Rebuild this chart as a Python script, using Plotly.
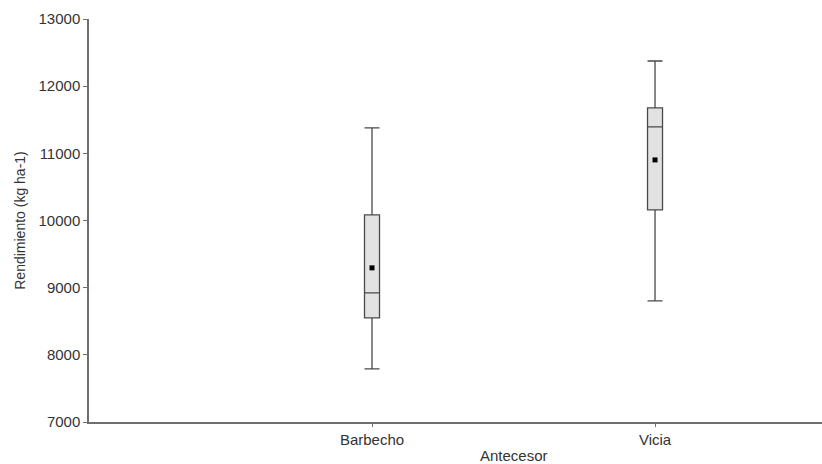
import plotly.graph_objects as go

# Yield summary by previous crop
categories = ["Barbecho", "Vicia"]
whisker_low = [7792, 8804]
q1 = [8551, 10158]
median = [8923, 11393]
q3 = [10083, 11676]
whisker_high = [11378, 12375]
mean = [9295, 10902]

y_ticks = [7000, 8000, 9000, 10000, 11000, 12000, 13000]

font_family = "Liberation Sans, Arial, sans-serif"
axis_color = "#6e6e6e"
text_color = "#333333"

fig = go.Figure()

fig.add_trace(go.Box(
    x=categories,
    q1=q1,
    median=median,
    q3=q3,
    lowerfence=whisker_low,
    upperfence=whisker_high,
    fillcolor="#e2e2e2",
    line=dict(color="#4a4a4a", width=1.3),
    width=0.053,
    whiskerwidth=1,
    boxpoints=False,
    showlegend=False,
    hoverinfo="skip",
))

fig.add_trace(go.Scatter(
    x=categories,
    y=mean,
    mode="markers",
    marker=dict(symbol="square", size=5, color="#000000"),
    showlegend=False,
    hoverinfo="skip",
))

# x-axis title, centred between the two groups
fig.add_annotation(
    x=0.5, xref="x", y=-0.0565, yref="paper",
    text="Antecesor", showarrow=False,
    yanchor="top",
    font=dict(family=font_family, size=15, color=text_color),
)

fig.update_layout(
    width=822,
    height=464,
    margin=dict(l=89, r=0, t=19, b=42),
    paper_bgcolor="white",
    plot_bgcolor="white",
    font=dict(family=font_family, size=15, color=text_color),
    xaxis=dict(
        type="category",
        range=[-1, 1.59],
        showgrid=False,
        zeroline=False,
        showline=True,
        linecolor=axis_color,
        linewidth=1.5,
        ticks="outside",
        ticklen=3,
        tickcolor=axis_color,
        tickfont=dict(size=15, color=text_color),
    ),
    yaxis=dict(
        range=[7000, 13000],
        tickvals=y_ticks,
        ticktext=[str(v) for v in y_ticks],
        showgrid=False,
        zeroline=False,
        showline=True,
        linecolor=axis_color,
        linewidth=1.5,
        ticks="outside",
        ticklen=4,
        tickcolor=axis_color,
        tickfont=dict(size=15, color=text_color),
        title=dict(text="Rendimiento (kg ha-1)", font=dict(size=14, color=text_color), standoff=10),
    ),
)

fig.write_html("out.html")
